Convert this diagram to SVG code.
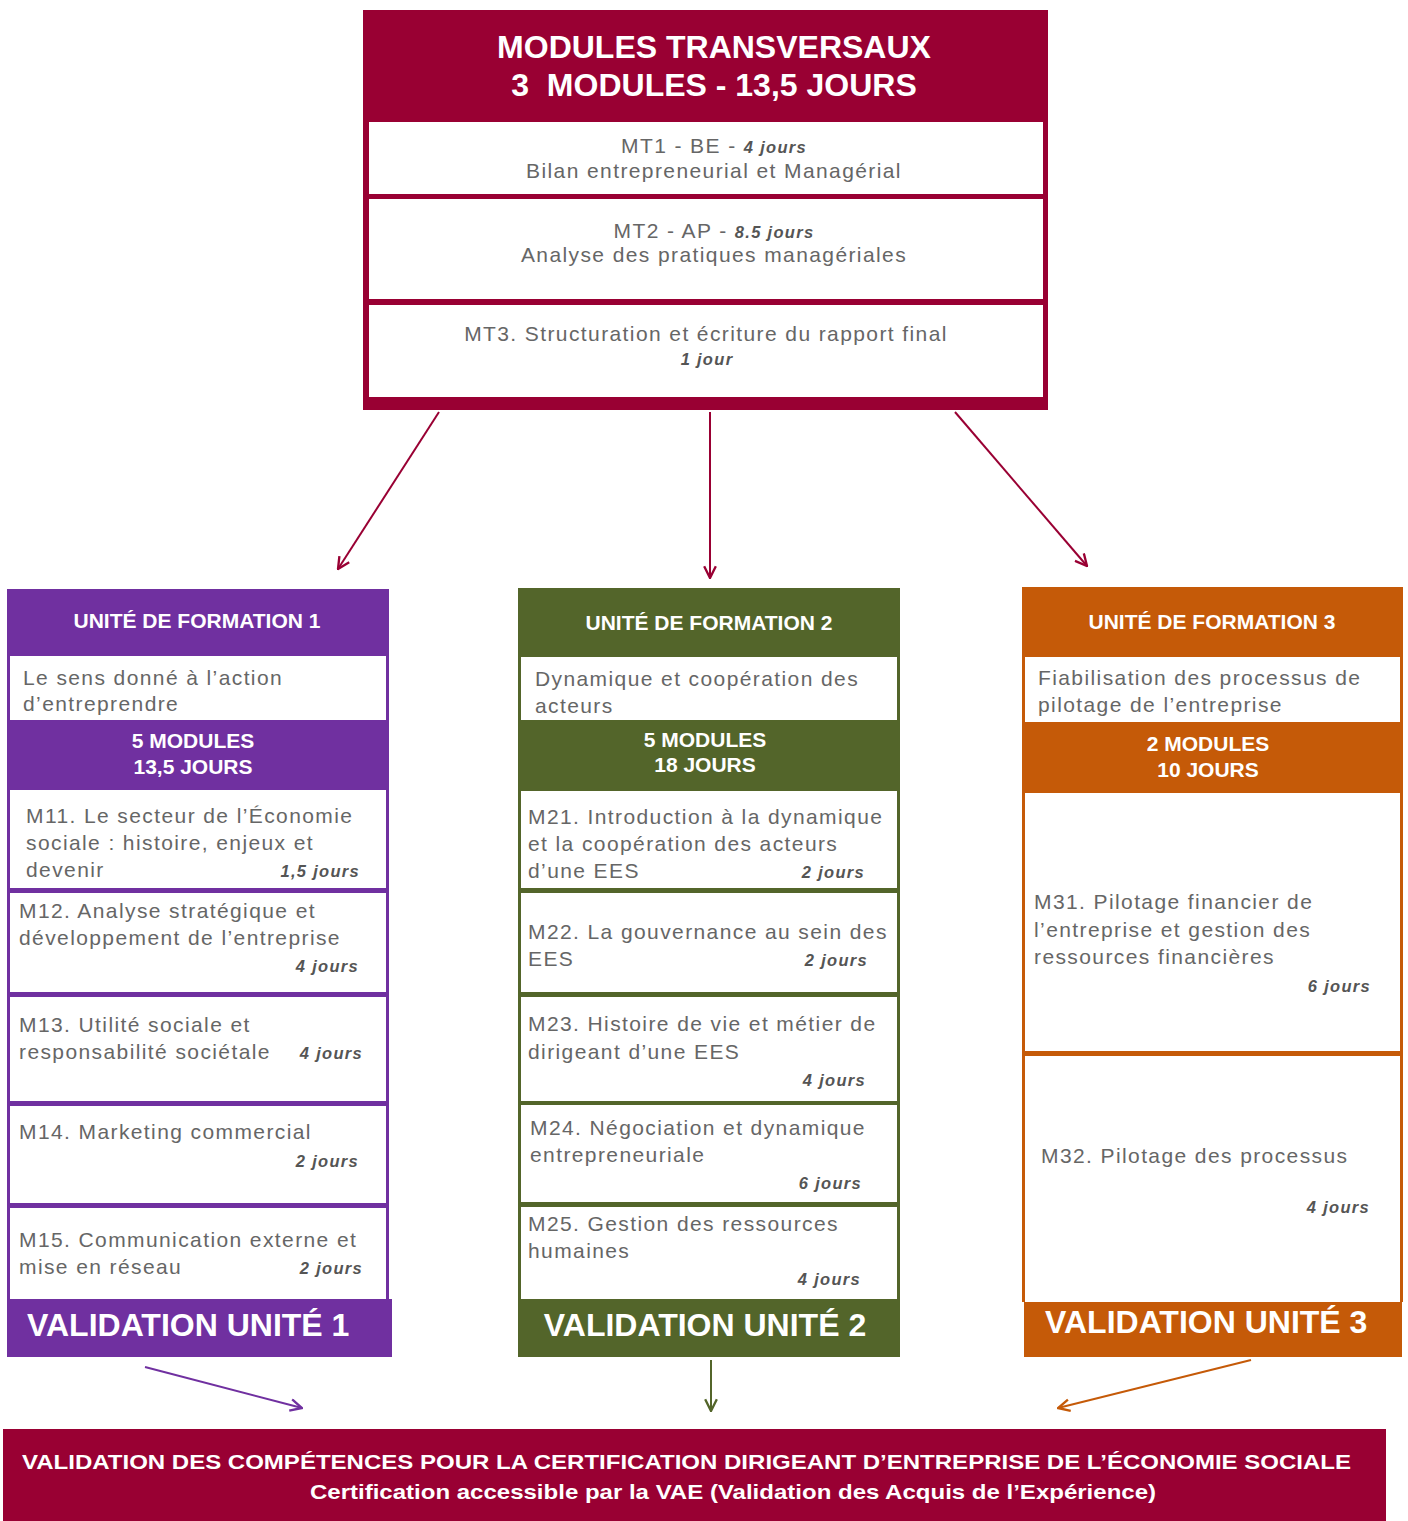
<svg xmlns="http://www.w3.org/2000/svg" width="1408" height="1521" viewBox="0 0 1408 1521">
<defs>
<style>
text{font-family:"Liberation Sans",Arial,Helvetica,sans-serif}
.h{font-weight:bold;fill:#fff}
.t{font-size:21px;fill:#666;letter-spacing:1.4px}
.j{font-size:16.5px;font-weight:bold;font-style:italic;fill:#555;letter-spacing:1.3px}
.w{fill:#fff}
.cr{fill:#990033}
.pu{fill:#7030a0}
.gr{fill:#53652a}
.or{fill:#c55a08}
.ln{fill:none;stroke-width:2}
</style>
<marker id="ac" viewBox="0 0 12 12" refX="11" refY="6" markerWidth="14" markerHeight="14" markerUnits="userSpaceOnUse" orient="auto"><path d="M1,1 L11,6 L1,11" fill="none" stroke="#990033" stroke-width="2"/></marker>
<marker id="ap" viewBox="0 0 12 12" refX="11" refY="6" markerWidth="14" markerHeight="14" markerUnits="userSpaceOnUse" orient="auto"><path d="M1,1 L11,6 L1,11" fill="none" stroke="#7030a0" stroke-width="2"/></marker>
<marker id="ag" viewBox="0 0 12 12" refX="11" refY="6" markerWidth="14" markerHeight="14" markerUnits="userSpaceOnUse" orient="auto"><path d="M1,1 L11,6 L1,11" fill="none" stroke="#53652a" stroke-width="2"/></marker>
<marker id="ao" viewBox="0 0 12 12" refX="11" refY="6" markerWidth="14" markerHeight="14" markerUnits="userSpaceOnUse" orient="auto"><path d="M1,1 L11,6 L1,11" fill="none" stroke="#c55a08" stroke-width="2"/></marker>
</defs>
<rect width="1408" height="1521" fill="#fff"/>

<g id="modules-transversaux">
<rect class="cr" x="363" y="10" width="685" height="400"/>
<text class="h" x="714" y="58" font-size="32" text-anchor="middle">MODULES TRANSVERSAUX</text>
<text class="h" x="714" y="96" font-size="32" text-anchor="middle" xml:space="preserve">3  MODULES - 13,5 JOURS</text>
<g id="mt1">
<rect class="w" x="369" y="122" width="674" height="72"/>
<text class="t" x="714" y="153" text-anchor="middle">MT1 - BE - <tspan class="j">4 jours</tspan></text>
<text class="t" x="714" y="178" text-anchor="middle">Bilan entrepreneurial et Managérial</text>
</g>
<g id="mt2">
<rect class="w" x="369" y="199" width="674" height="100"/>
<text class="t" x="714" y="238" text-anchor="middle">MT2 - AP - <tspan class="j">8.5 jours</tspan></text>
<text class="t" x="714" y="262" text-anchor="middle">Analyse des pratiques managériales</text>
</g>
<g id="mt3">
<rect class="w" x="369" y="305" width="674" height="92"/>
<text class="t" x="706" y="341" text-anchor="middle">MT3. Structuration et écriture du rapport final</text>
<text class="j" x="707" y="365" text-anchor="middle">1 jour</text>
</g>
</g>

<g id="unite-1">
<rect class="pu" x="7" y="589" width="382" height="710"/>
<text class="h" x="197" y="628" font-size="21" text-anchor="middle">UNITÉ DE FORMATION 1</text>
<rect class="w" x="10" y="656" width="376" height="64"/>
<text class="t" x="23" y="685">Le sens donné à l’action</text>
<text class="t" x="23" y="711">d’entreprendre</text>
<text class="h" x="193" y="748" font-size="21" text-anchor="middle">5 MODULES</text>
<text class="h" x="193" y="774" font-size="21" text-anchor="middle">13,5 JOURS</text>
<g id="m11">
<rect class="w" x="10" y="790" width="376" height="98"/>
<text class="t" x="26" y="823">M11. Le secteur de l’Économie</text>
<text class="t" x="26" y="850">sociale : histoire, enjeux et</text>
<text class="t" x="26" y="877">devenir</text>
<text class="j" x="360" y="877" text-anchor="end">1,5 jours</text>
</g>
<g id="m12">
<rect class="w" x="10" y="893" width="376" height="99"/>
<text class="t" x="19" y="918">M12. Analyse stratégique et</text>
<text class="t" x="19" y="945">développement de l’entreprise</text>
<text class="j" x="359" y="972" text-anchor="end">4 jours</text>
</g>
<g id="m13">
<rect class="w" x="10" y="997" width="376" height="104"/>
<text class="t" x="19" y="1032">M13. Utilité sociale et</text>
<text class="t" x="19" y="1059">responsabilité sociétale</text>
<text class="j" x="363" y="1059" text-anchor="end">4 jours</text>
</g>
<g id="m14">
<rect class="w" x="10" y="1106" width="376" height="97"/>
<text class="t" x="19" y="1139">M14. Marketing commercial</text>
<text class="j" x="359" y="1167" text-anchor="end">2 jours</text>
</g>
<g id="m15">
<rect class="w" x="10" y="1208" width="376" height="91"/>
<text class="t" x="19" y="1247">M15. Communication externe et</text>
<text class="t" x="19" y="1274">mise en réseau</text>
<text class="j" x="363" y="1274" text-anchor="end">2 jours</text>
</g>
<g id="validation-1">
<rect class="pu" x="7" y="1299" width="385" height="58"/>
<text class="h" x="27" y="1336" font-size="32">VALIDATION UNITÉ 1</text>
</g>
</g>

<g id="unite-2">
<rect class="gr" x="518" y="588" width="382" height="711"/>
<text class="h" x="709" y="630" font-size="21" text-anchor="middle">UNITÉ DE FORMATION 2</text>
<rect class="w" x="521" y="657" width="376" height="63"/>
<text class="t" x="535" y="686">Dynamique et coopération des</text>
<text class="t" x="535" y="713">acteurs</text>
<text class="h" x="705" y="747" font-size="21" text-anchor="middle">5 MODULES</text>
<text class="h" x="705" y="772" font-size="21" text-anchor="middle">18 JOURS</text>
<g id="m21">
<rect class="w" x="521" y="791" width="376" height="97"/>
<text class="t" x="528" y="824">M21. Introduction à la dynamique</text>
<text class="t" x="528" y="851">et la coopération des acteurs</text>
<text class="t" x="528" y="878">d’une EES</text>
<text class="j" x="865" y="878" text-anchor="end">2 jours</text>
</g>
<g id="m22">
<rect class="w" x="521" y="893" width="376" height="99"/>
<text class="t" x="528" y="939">M22. La gouvernance au sein des</text>
<text class="t" x="528" y="966">EES</text>
<text class="j" x="868" y="966" text-anchor="end">2 jours</text>
</g>
<g id="m23">
<rect class="w" x="521" y="997" width="376" height="104"/>
<text class="t" x="528" y="1031">M23. Histoire de vie et métier de</text>
<text class="t" x="528" y="1059">dirigeant d’une EES</text>
<text class="j" x="866" y="1086" text-anchor="end">4 jours</text>
</g>
<g id="m24">
<rect class="w" x="521" y="1105" width="376" height="97"/>
<text class="t" x="530" y="1135">M24. Négociation et dynamique</text>
<text class="t" x="530" y="1162">entrepreneuriale</text>
<text class="j" x="862" y="1189" text-anchor="end">6 jours</text>
</g>
<g id="m25">
<rect class="w" x="521" y="1207" width="376" height="92"/>
<text class="t" x="528" y="1231">M25. Gestion des ressources</text>
<text class="t" x="528" y="1258">humaines</text>
<text class="j" x="861" y="1285" text-anchor="end">4 jours</text>
</g>
<g id="validation-2">
<rect class="gr" x="518" y="1299" width="382" height="58"/>
<text class="h" x="705" y="1336" font-size="32" text-anchor="middle">VALIDATION UNITÉ 2</text>
</g>
</g>

<g id="unite-3">
<rect class="or" x="1022" y="587" width="381" height="715"/>
<text class="h" x="1212" y="629" font-size="21" text-anchor="middle">UNITÉ DE FORMATION 3</text>
<rect class="w" x="1025" y="657" width="375" height="65"/>
<text class="t" x="1038" y="685">Fiabilisation des processus de</text>
<text class="t" x="1038" y="712">pilotage de l’entreprise</text>
<text class="h" x="1208" y="751" font-size="21" text-anchor="middle">2 MODULES</text>
<text class="h" x="1208" y="777" font-size="21" text-anchor="middle">10 JOURS</text>
<g id="m31">
<rect class="w" x="1025" y="793" width="375" height="258"/>
<text class="t" x="1034" y="909">M31. Pilotage financier de</text>
<text class="t" x="1034" y="937">l’entreprise et gestion des</text>
<text class="t" x="1034" y="964">ressources financières</text>
<text class="j" x="1371" y="992" text-anchor="end">6 jours</text>
</g>
<g id="m32">
<rect class="w" x="1025" y="1056" width="375" height="246"/>
<text class="t" x="1041" y="1163">M32. Pilotage des processus</text>
<text class="j" x="1370" y="1213" text-anchor="end">4 jours</text>
</g>
<g id="validation-3">
<rect class="or" x="1024" y="1302" width="378" height="55"/>
<text class="h" x="1045" y="1333" font-size="32">VALIDATION UNITÉ 3</text>
</g>
</g>

<g id="certification">
<rect class="cr" x="3" y="1429" width="1383" height="92"/>
<text class="h" x="22" y="1469" font-size="21" textLength="1329" lengthAdjust="spacingAndGlyphs">VALIDATION DES COMPÉTENCES POUR LA CERTIFICATION DIRIGEANT D’ENTREPRISE DE L’ÉCONOMIE SOCIALE</text>
<text class="h" x="310" y="1499" font-size="21" textLength="846" lengthAdjust="spacingAndGlyphs">Certification accessible par la VAE (Validation des Acquis de l’Expérience)</text>
</g>

<g id="connectors">
<line class="ln" stroke="#990033" x1="439" y1="412" x2="338" y2="569" marker-end="url(#ac)"/>
<line class="ln" stroke="#990033" x1="710" y1="412" x2="710" y2="578" marker-end="url(#ac)"/>
<line class="ln" stroke="#990033" x1="955" y1="412" x2="1087" y2="566" marker-end="url(#ac)"/>
<line class="ln" stroke="#7030a0" x1="145" y1="1367" x2="302" y2="1408" marker-end="url(#ap)"/>
<line class="ln" stroke="#53652a" x1="711" y1="1360" x2="711" y2="1411" marker-end="url(#ag)"/>
<line class="ln" stroke="#c55a08" x1="1251" y1="1360" x2="1058" y2="1408" marker-end="url(#ao)"/>
</g>
</svg>
